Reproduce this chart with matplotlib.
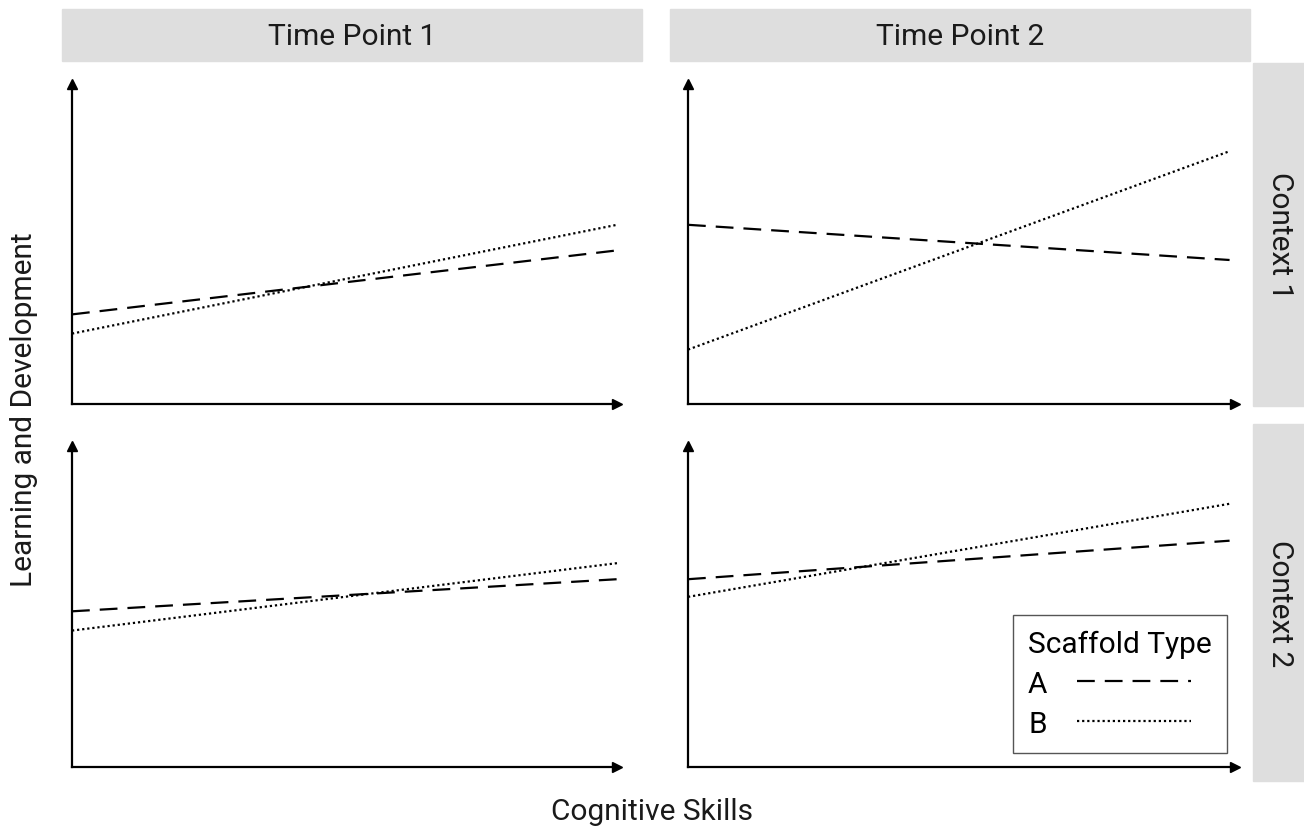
import matplotlib.pyplot as plt
from matplotlib.patches import Rectangle

plt.rcParams['font.family'] = ['Roboto', 'DejaVu Sans']

# values (y in 0-10 units, x from low to high skill)
x_skill = [0, 10]
time_points = ['Time Point 1', 'Time Point 2']
contexts = ['Context 1', 'Context 2']
scaffold_a = {
    (0, 0): [2.8, 4.8], (0, 1): [5.6, 4.5],
    (1, 0): [4.85, 5.85], (1, 1): [5.85, 7.05],
}
scaffold_b = {
    (0, 0): [2.2, 5.6], (0, 1): [1.7, 7.9],
    (1, 0): [4.25, 6.35], (1, 1): [5.3, 8.2],
}

W, H = 1304, 828
fig = plt.figure(figsize=(W / 100, H / 100), dpi=100)

strip_col = '#dedede'
text_col = '#1a1a1a'
fs = 21.5

col_left = [72, 688]
col_right = [617, 1235]
row_top = [85, 447]
row_bottom = [405, 768]

axes = {}
for r in range(2):
    for c in range(2):
        ax = fig.add_axes([col_left[c] / W, 1 - row_bottom[r] / H,
                           (col_right[c] - col_left[c]) / W,
                           (row_bottom[r] - row_top[r]) / H])
        ax.set_xlim(0, 10.0 if c == 0 else 10.1)
        ax.set_ylim(0, 10)
        ax.set_xticks([])
        ax.set_yticks([])
        for s in ['top', 'right']:
            ax.spines[s].set_visible(False)
        for s in ['left', 'bottom']:
            ax.spines[s].set_linewidth(1.6)
        ax.plot(1, 0, '>k', transform=ax.transAxes, clip_on=False, ms=7)
        ax.plot(0, 1, '^k', transform=ax.transAxes, clip_on=False, ms=7)
        ax.plot(x_skill, scaffold_a[(r, c)], color='black', lw=1.6,
                dashes=(8, 4.5), label='A', clip_on=False)
        ax.plot(x_skill, scaffold_b[(r, c)], color='black', lw=1.6,
                dashes=(1, 1.3), label='B', clip_on=False)
        axes[(r, c)] = ax

# column strips
for c, (x0, x1) in enumerate([(62, 642), (670, 1250)]):
    fig.patches.append(Rectangle((x0 / W, 1 - 62 / H), (x1 - x0) / W, 52 / H,
                                 transform=fig.transFigure, color=strip_col, zorder=0))
    fig.text((x0 + x1) / 2 / W, 1 - 37 / H, time_points[c], ha='center', va='center',
             fontsize=fs, color=text_col)

# row strips
for r, (y0, y1) in enumerate([(64, 407), (425, 782)]):
    fig.patches.append(Rectangle((1253 / W, 1 - y1 / H), 51 / W, (y1 - y0) / H,
                                 transform=fig.transFigure, color=strip_col, zorder=0))
    fig.text(1280 / W, 1 - (y0 + y1) / 2 / H, contexts[r], ha='center', va='center',
             rotation=-90, fontsize=fs, color=text_col)

fig.text(24 / W, 1 - 410 / H, 'Learning and Development', rotation=90,
         ha='center', va='center', fontsize=fs, color=text_col)
fig.text(652 / W, 1 - 812 / H, 'Cognitive Skills', ha='center', va='center',
         fontsize=fs, color=text_col)

leg = axes[(1, 1)].legend(title='Scaffold Type', loc='lower right',
                          bbox_to_anchor=(0.985, 0.045), fontsize=fs,
                          title_fontsize=fs, markerfirst=False, handlelength=3.8,
                          fancybox=False, edgecolor='#555555', framealpha=1,
                          borderpad=0.5, labelspacing=0.4, handletextpad=1.0,
                          borderaxespad=0)
leg._legend_box.align = 'left'
leg.get_frame().set_linewidth(1.0)

fig.savefig('out.png', dpi=100)
